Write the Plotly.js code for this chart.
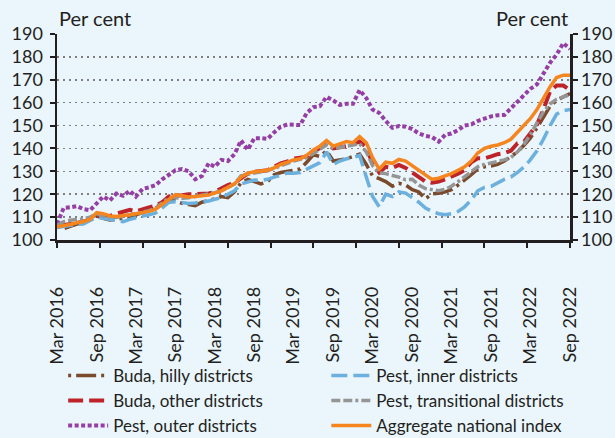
<!DOCTYPE html>
<html>
<head>
<meta charset="utf-8">
<script src="https://cdn.plot.ly/plotly-3.0.1.min.js"></script>
<style>
html,body{margin:0;padding:0;background:#eaf5fc;}
#chart{width:615px;height:438px;}
</style>
</head>
<body>
<div id="chart"></div>
<script>
// Monthly series, Mar 2016 .. Sep 2022 (79 months)
const startYear = 2016, startMonth = 3, nMonths = 79;

const budaHilly = [106,105,106,107,107.5,109,110.5,109.5,108.7,109,109.5,110,111,112,113,114,116.5,118,117,116,115.5,115,116.5,117.2,118,119,118.5,121,125,126.5,125.5,124.5,125.5,128.5,129.5,130,130.5,131,134,
137.2,136.5,139,134.5,135,135.5,136.5,137.5,133,128,126.8,125.5,123.5,124.8,124,122,121,118,120.2,120.4,121,122,124,126,128.5,131,132,132.3,133,134.5,136.5,138.5,141.5,144.5,149,154,158.5,161,162.5,164];

const pestInner = [105.5,106,106.3,106.8,107,108.5,110,109.5,109,108.3,108,109,109.8,110.5,111,111.8,114,116.5,116.7,116.3,116,116.2,116.5,117,117.8,118.5,120,121.5,124.5,125.5,126.2,126,126.5,127.5,128.2,129.3,129.2,129.5,130.8,
132.5,133.8,138.5,133,134.5,135.5,136,137,127.5,119,114.5,120,119,121,120.5,118.5,116.5,114,112.5,111.5,111,111.5,112.5,114.5,117.5,121.5,123,123.5,125,126.5,127.5,129.5,132,135,139,144,150,155,156.5,157];

const budaOther = [106.5,106.5,107,107.5,108,109,110.5,110.3,110.5,111.5,112.5,113.2,112.5,113.5,114.2,115,116.5,119,119.5,119.6,120,120.2,120.5,120.3,121,122.5,124,125,127,129,129.8,130.3,130.5,132,133.5,134.3,135.5,136,136.5,
138.5,140,142,140,140.5,141,142,143,140.5,133.5,129.5,132,131.5,132.8,131.5,129.5,127.5,125.5,125,125.5,126.5,127.5,129,130.5,134,135.7,135.7,136.5,137.5,138,139,142.3,143,146.5,150.5,157,165,167.5,167.5,165.5];

const pestTransitional = [106.5,108,108.6,109,109.2,110,111.5,110.5,110,109.8,110.5,111,111.5,112,112.8,114,116,118.5,118.5,118.2,118.5,119,119.5,120,120.7,121.5,123,124.5,128,128.8,129.3,129.8,130.3,131.3,132.5,133.5,134.5,135.2,136,
137.8,139.5,141.5,140,140.5,141,141.5,142,138.5,132.5,129.3,129,128.2,127.5,126.3,126.5,124,122.5,122,121.5,122.2,123.5,125.5,127.5,130,132,133,133.5,134.3,135,136,138.5,142,146,151,156,159.5,161.5,162.5,163.5];

const pestOuter = [107,114,114.3,114.8,113.5,113,116,119,117.3,120.3,119.3,121.5,119,122.3,123,124,126.5,128.5,130.5,131,130,126.5,128,133.5,132,135,134.5,137.5,143.5,139.5,144.5,144.5,144.2,147,149.5,150.5,150.5,150.2,155.5,
158,158.5,162.5,161,159,159.5,159.5,165.5,162,157,155.5,152,149,149.8,149.5,148.5,146.5,145.5,145,143,146,146.5,148,150,150.5,152,153,154,154.5,154.6,157.5,160.5,163.5,166,168,173,177.5,181,186,183.5];

const aggregate = [105.8,106.2,106.8,107.5,108,109,112,111.5,110.5,110.3,110.5,111,111.5,112,112.5,113.5,115.5,118,119.8,119.3,118.8,119,119.3,119.6,120.5,121.5,123,124.5,127.5,129.2,129.8,130,130.5,131.5,133,134,135,135.5,137,
139.3,141,143.5,141,142,143,142.5,145.2,142.5,136,131,134,133.5,135.2,134.5,132.5,130.5,128.5,126.5,127,128,129,130.5,132,134.5,138,140,141,141.5,142.5,144,147,150,153,157,162,167,171,172,172];

const labelDates = ['2016-03-01','2016-09-01','2017-03-01','2017-09-01','2018-03-01','2018-09-01','2019-03-01','2019-09-01','2020-03-01','2020-09-01','2021-03-01','2021-09-01','2022-03-01','2022-09-01'];
const labelText = ['Mar 2016','Sep 2016','Mar 2017','Sep 2017','Mar 2018','Sep 2018','Mar 2019','Sep 2019','Mar 2020','Sep 2020','Mar 2021','Sep 2021','Mar 2022','Sep 2022'];
const yTicks = [100,110,120,130,140,150,160,170,180,190];

function pad(n){return (n<10?'0':'')+n;}
function monthDate(m){
  const whole = Math.floor(m);
  const total = startMonth - 1 + whole;
  const y = startYear + Math.floor(total/12);
  const mo = total % 12 + 1;
  const day = (m - whole) > 0 ? 16 : 1;
  return y + '-' + pad(mo) + '-' + pad(day);
}
const months = [];
for (let i = 0; i < nMonths; i++) months.push(monthDate(i));
// Excel-style tick marks: 12 equal intervals across the axis
const tickMarks = [];
for (let k = 0; k <= 12; k++) tickMarks.push(monthDate(k * 6.5));

const FONT = 'Lato, "Open Sans", sans-serif';
const txt = '#231f20';

function tr(name, y, color, dash, width, legend, yaxis){
  return {x: months, y: y, name: name, type: 'scatter', mode: 'lines',
    line: {color: color, dash: dash, width: width}, yaxis: yaxis || 'y', legend: legend, hoverinfo: 'skip'};
}

const data = [
  tr('Buda, hilly districts', budaHilly, '#7a4a2b', '3px,5px,20px,5px', 3.5, 'legend'),
  tr('Buda, other districts', budaOther, '#bd2329', '15px,6px', 4, 'legend'),
  tr('Pest, outer districts', pestOuter, '#953ea3', '4px,2.5px', 4, 'legend'),
  tr('Pest, inner districts', pestInner, '#6cb0dd', '16px,6px', 3.5, 'legend2'),
  tr('Pest, transitional districts', pestTransitional, '#959595', '9px,3px,9px,3px,3px,3px', 3.5, 'legend2'),
  tr('Aggregate national index', aggregate, '#f5861f', 'solid', 3.5, 'legend2', 'y2')
];

const yax = {
  range: [100, 190], tickvals: yTicks, ticks: 'outside', ticklen: 5, tickwidth: 2, tickcolor: '#231f20',
  showline: true, linecolor: '#231f20', linewidth: 2.5, zeroline: false,
  tickfont: {family: FONT, size: 18, color: txt}, fixedrange: true
};

const legendBase = {
  orientation: 'v', xref: 'paper', yref: 'paper', xanchor: 'left', yanchor: 'top',
  itemwidth: 40, bgcolor: 'rgba(0,0,0,0)', font: {family: FONT, size: 17, color: txt},
  tracegroupgap: 0, traceorder: 'normal', borderwidth: 0
};

const layout = {
  width: 615, height: 438,
  margin: {l: 57, r: 45, t: 34, b: 198, autoexpand: false},
  paper_bgcolor: '#eaf5fc', plot_bgcolor: '#eaf5fc',
  showlegend: true,
  font: {family: FONT, size: 18, color: txt},
  xaxis: {
    type: 'date', range: ['2016-03-01', '2022-09-01'],
    tickmode: 'array', tickvals: labelDates, ticktext: labelText, tickangle: -90,
    ticks: '', ticklabelstandoff: 37,
    minor: {tickmode: 'array', tickvals: tickMarks, ticks: 'outside', ticklen: 5, tickwidth: 2, tickcolor: '#231f20', showgrid: false},
    showgrid: false, showline: true, linecolor: '#231f20', linewidth: 2.5, zeroline: false,
    tickfont: {family: FONT, size: 18, color: txt}, fixedrange: true, automargin: false
  },
  yaxis: Object.assign({}, yax, {
    side: 'left', showgrid: true, gridcolor: '#7f7f7f', gridwidth: 1.5, griddash: '2px,4px',
    ticklabelstandoff: 3, automargin: false
  }),
  yaxis2: Object.assign({}, yax, {
    side: 'right', overlaying: 'y', showgrid: false, ticklabelstandoff: 0, automargin: false
  }),
  legend: Object.assign({}, legendBase, {x: 0.012, y: -0.572}),
  legend2: Object.assign({}, legendBase, {x: 0.525, y: -0.572}),
  annotations: [
    {text: 'Per cent', xref: 'paper', yref: 'paper', x: 0, y: 1.078, xanchor: 'left', yanchor: 'middle', showarrow: false, font: {family: FONT, size: 20, color: txt}},
    {text: 'Per cent', xref: 'paper', yref: 'paper', x: 1, y: 1.078, xanchor: 'right', yanchor: 'middle', showarrow: false, font: {family: FONT, size: 20, color: txt}}
  ]
};

Plotly.newPlot('chart', data, layout, {displayModeBar: false, staticPlot: true});
</script>
</body>
</html>
